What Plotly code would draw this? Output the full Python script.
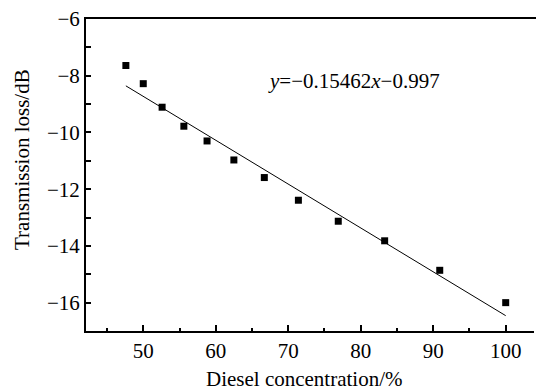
import numpy as np
import plotly.graph_objects as go

# Measured transmission loss vs. diesel concentration
concentration = [47.6, 50.0, 52.6, 55.6, 58.8, 62.5, 66.7, 71.4, 76.9, 83.3, 90.9, 100.0]
loss_db = [-7.64, -8.28, -9.11, -9.78, -10.30, -10.97, -11.59, -12.39, -13.13, -13.82, -14.86, -16.00]

# Linear fit coefficients
slope = -0.15462
intercept = -0.997

x_ticks = [50, 60, 70, 80, 90, 100]
x_minor = [45, 55, 65, 75, 85, 95]
y_ticks = [-6, -8, -10, -12, -14, -16]
y_minor = [-7, -9, -11, -13, -15]

fit_x = np.array([concentration[0], concentration[-1]])
fit_y = slope * fit_x + intercept

FONT = "Liberation Serif"
FS = 21

W, H = 536, 392
ML, MT, MB, MR = 86, 19, 61, 0
PW, PH = W - ML - MR, H - MT - MB

fig = go.Figure()
fig.add_trace(go.Scatter(
    x=fit_x, y=fit_y, mode="lines",
    line=dict(color="black", width=1), showlegend=False,
))
fig.add_trace(go.Scatter(
    x=concentration, y=loss_db, mode="markers",
    marker=dict(symbol="square", size=7, color="black", line=dict(width=0)),
    showlegend=False,
))

fig.update_layout(
    template="none",
    width=W, height=H,
    margin=dict(l=ML, r=MR, t=MT, b=MB, pad=0),
    paper_bgcolor="white", plot_bgcolor="white",
    font=dict(family=FONT, size=FS, color="black"),
    annotations=[
        dict(x=66.98, y=-8.17, xref="x", yref="y",
             text="<i>y</i>=\u22120.15462<i>x</i>\u22120.997",
             showarrow=False, xanchor="left", yanchor="middle",
             font=dict(family=FONT, size=FS, color="black")),
        dict(x=(304 - ML) / PW, y=(H - MB - 379) / PH, xref="paper", yref="paper",
             text="Diesel concentration/%", showarrow=False,
             xanchor="center", yanchor="middle",
             font=dict(family=FONT, size=FS, color="black")),
        dict(x=(22 - ML) / PW, y=(H - MB - 160) / PH, xref="paper", yref="paper",
             text="Transmission loss/dB", showarrow=False, textangle=-90,
             xanchor="center", yanchor="middle",
             font=dict(family=FONT, size=FS, color="black")),
    ],
    shapes=[
        # the frame stays open on the right-hand side
        dict(type="line", xref="paper", yref="paper", x0=1, x1=1, y0=-0.01, y1=0.997,
             line=dict(color="white", width=4), layer="above"),
    ],
)

fig.update_xaxes(
    range=[42.1, 104.18], tickmode="array", tickvals=x_ticks,
    ticks="inside", ticklen=6, tickwidth=1.5, tickcolor="black",
    minor=dict(tickmode="array", tickvals=x_minor, showgrid=False,
               ticks="inside", ticklen=3.5, tickwidth=1.5, tickcolor="black"),
    showline=True, linecolor="black", linewidth=2, mirror=True,
    showgrid=False, zeroline=False,
    tickfont=dict(family=FONT, size=FS, color="black"),
)
fig.update_yaxes(
    range=[-17, -6], tickmode="array", tickvals=y_ticks,
    ticktext=["\u22126", "\u22128", "\u221210", "\u221212", "\u221214", "\u221216"],
    ticks="inside", ticklen=5, tickwidth=1.5, tickcolor="black",
    minor=dict(tickmode="array", tickvals=y_minor, showgrid=False,
               ticks="inside", ticklen=5, tickwidth=1.5, tickcolor="black"),
    showline=True, linecolor="black", linewidth=2, mirror=False,
    showgrid=False, zeroline=False,
    tickfont=dict(family=FONT, size=FS, color="black"),
)

fig.write_html("out.html")
